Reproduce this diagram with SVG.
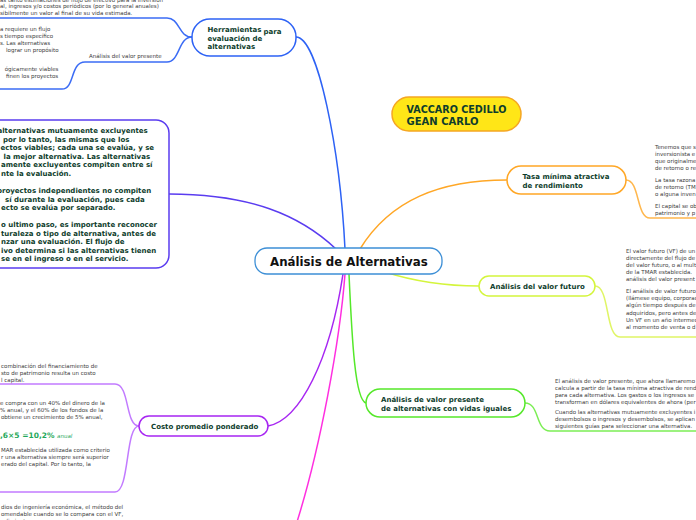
<svg xmlns="http://www.w3.org/2000/svg" width="696" height="520" viewBox="0 0 696 520">
<style>
.n{font-family:"DejaVu Sans",Verdana,sans-serif;font-weight:bold;font-size:7px;fill:#0e3d2c}
.g{font-family:"DejaVu Sans",Verdana,sans-serif;font-size:5.5px;fill:#3c3c3c}
.b{font-family:"DejaVu Sans",Verdana,sans-serif;font-weight:bold;font-size:7px;fill:#0e3d2c}
.c{fill:none;stroke-width:1.5}
</style>
<rect width="696" height="520" fill="#fff"/>
<g id="connectors">
<path class="c" stroke="#2d62f5" d="M296 37 C318 37 340 150 345 249"/>
<path class="c" stroke="#5a3cf0" d="M169 194 C250 194 300 215 336 249"/>
<path class="c" stroke="#ffa726" d="M360 249 C390 200 440 180 507 180"/>
<path class="c" stroke="#d4f53c" d="M385 272 C410 280 440 286 479 286"/>
<path class="c" stroke="#55e82a" d="M349 274 C352 340 355 400 366 403"/>
<path class="c" stroke="#a726f2" d="M343 274 C330 360 300 420 268 426"/>
<path class="c" stroke="#ff2fe0" d="M345 274 C340 340 320 450 296 525"/>
<path class="c" stroke="#3b6cf5" d="M192 37 C178 37 180 18 167 18 L0 18"/>
<path class="c" stroke="#3b6cf5" d="M192 37 C178 37 180 62 167 62 L85 62"/>
<path class="c" stroke="#3b6cf5" d="M85 62 C70 62 75 89 62 89 L0 89"/>
<path class="c" stroke="#ffb74d" d="M626 180 C640 180 636 218 650 218 L696 218"/>
<path class="c" stroke="#e0f566" d="M595 286 C610 286 605 337 620 337 L696 337"/>
<path class="c" stroke="#7cee55" d="M525 403 C540 403 535 431 550 431 L696 431"/>
<path class="c" stroke="#c27bff" d="M139 426 C125 426 130 384 115 384 L0 384"/>
<path class="c" stroke="#c27bff" d="M139 426 C125 426 130 492 115 492 L0 492"/>
</g>
<g id="central">
<rect x="255" y="248" width="187" height="26" rx="12" fill="#fff" stroke="#3d8fd6" stroke-width="1.3"/>
<text x="270" y="265.5" font-family="DejaVu Sans,Verdana,sans-serif" font-weight="bold" font-size="11.8" fill="#111">Análisis de Alternativas</text>
</g>
<g id="herramientas">
<rect x="192" y="19" width="104" height="37" rx="18" fill="#fff" stroke="#2d62f5" stroke-width="1.5"/>
<text class="n" x="207.5" y="31.5">Herramientas</text>
<text class="n" x="263.5" y="33.5">para</text>
<text class="n" x="207.5" y="40.5">evaluación de</text>
<text class="n" x="207.5" y="48.5">alternativas</text>
</g>
<g id="herr-texts">
<text class="g" x="0" y="1.5">as tanto estimaciones de flujo de efectivo para la inversión</text>
<text class="g" x="0" y="8">al, ingresos y/o costos periódicos (por lo general anuales)</text>
<text class="g" x="0" y="14.5">sibilmente un valor al final de su vida estimada.</text>
<text class="g" x="0" y="31">a requiere un flujo</text>
<text class="g" x="0" y="38">s tiempo específico</text>
<text class="g" x="0" y="45">s.  Las alternativas</text>
<text class="g" x="6" y="52">lograr un propósito</text>
<text class="g" x="89" y="58">Análisis del valor presente</text>
<text class="g" x="4.7" y="71">ógicamente viables</text>
<text class="g" x="6" y="78">finen los proyectos</text>
</g>
<g id="tipos">
<rect x="-30" y="120" width="199" height="148" rx="13" fill="#fff" stroke="#5a3cf0" stroke-width="1.5"/>
<text class="b" x="-2.5" y="133">alternativas mutuamente excluyentes</text>
<text class="b" x="3" y="141.5">por lo tanto, las mismas que los</text>
<text class="b" x="0.5" y="150">ectos viables; cada una se evalúa, y se</text>
<text class="b" x="3.5" y="158.5">la mejor alternativa.  Las alternativas</text>
<text class="b" x="1" y="167">amente excluyentes compiten entre sí</text>
<text class="b" x="1" y="175.5">nte la evaluación.</text>
<text class="b" x="-3" y="193">proyectos independientes no compiten</text>
<text class="b" x="5" y="201.5">sí durante la evaluación, pues cada</text>
<text class="b" x="1" y="210">ecto se evalúa por separado.</text>
<text class="b" x="1" y="227">o ultimo paso, es importante reconocer</text>
<text class="b" x="1" y="235.5">turaleza o tipo de alternativa, antes de</text>
<text class="b" x="1" y="244">nzar una evaluación.  El flujo de</text>
<text class="b" x="1" y="252.5">ivo determina si las alternativas tienen</text>
<text class="b" x="1" y="261">se en el ingreso o en el servicio.</text>
</g>
<g id="autor">
<rect x="392" y="97" width="129" height="34" rx="17" fill="#ffe617" stroke="#f5a623" stroke-width="1.5"/>
<text x="406.5" y="112.5" font-family="DejaVu Sans,Verdana,sans-serif" font-weight="bold" font-size="10" fill="#0e3d2c" textLength="100" lengthAdjust="spacingAndGlyphs">VACCARO CEDILLO</text>
<text x="406.5" y="124.5" font-family="DejaVu Sans,Verdana,sans-serif" font-weight="bold" font-size="10" fill="#0e3d2c">GEAN CARLO</text>
</g>
<g id="tmar">
<rect x="507" y="166" width="119" height="28" rx="14" fill="#fff" stroke="#ffa726" stroke-width="1.5"/>
<text class="n" x="522.5" y="179">Tasa mínima atractiva</text>
<text class="n" x="522.5" y="187.5">de rendimiento</text>
<text class="g" x="655" y="148.5">Tenemos que s</text>
<text class="g" x="655" y="155.5">inversionista e</text>
<text class="g" x="655" y="162.5">que originalme</text>
<text class="g" x="655" y="169.5">de retorno o re</text>
<text class="g" x="655" y="182">La tasa razona</text>
<text class="g" x="655" y="189">de retorno (TM</text>
<text class="g" x="655" y="196">o alguna inven</text>
<text class="g" x="655" y="208">El capital se ob</text>
<text class="g" x="655" y="215">patrimonio y p</text>
</g>
<g id="vf">
<rect x="479" y="276" width="116" height="20" rx="10" fill="#fff" stroke="#d4f53c" stroke-width="1.5"/>
<text class="n" x="490" y="288.5">Análisis del valor futuro</text>
<text class="g" x="626" y="252.5">El valor futuro (VF) de un</text>
<text class="g" x="626" y="259.7">directamente del flujo de</text>
<text class="g" x="626" y="266.9">del valor futuro, o al mult</text>
<text class="g" x="626" y="274.1">de la TMAR establecida.</text>
<text class="g" x="626" y="281.3">análisis del valor present</text>
<text class="g" x="626" y="293">El análisis de valor futuro</text>
<text class="g" x="626" y="300.2">(llámese equipo, corporac</text>
<text class="g" x="626" y="307.4">algún tiempo después de</text>
<text class="g" x="626" y="314.6">adquiridos, pero antes de</text>
<text class="g" x="626" y="321.8">Un VF en un año intermed</text>
<text class="g" x="626" y="329">al momento de venta o d</text>
</g>
<g id="vp">
<rect x="366" y="389" width="159" height="28" rx="14" fill="#fff" stroke="#55e82a" stroke-width="1.5"/>
<text class="n" x="381" y="402">Análisis de valor presente</text>
<text class="n" x="381" y="410.5">de alternativas con vidas iguales</text>
<text class="g" x="555" y="382.5">El análisis de valor presente, que ahora llamaremo</text>
<text class="g" x="555" y="389.5">calcula a partir de la tasa mínima atractiva de rend</text>
<text class="g" x="555" y="396.5">para cada alternativa.  Los gastos o los ingresos se</text>
<text class="g" x="555" y="403.5">transforman en dólares equivalentes de ahora (per</text>
<text class="g" x="555" y="413.5">Cuando las alternativas mutuamente excluyentes i</text>
<text class="g" x="555" y="420.5">desembolsos o ingresos y desembolsos, se aplican</text>
<text class="g" x="555" y="427.5">siguientes guías para seleccionar una alternativa.</text>
</g>
<g id="costo">
<rect x="139" y="416" width="129" height="20" rx="10" fill="#fff" stroke="#a726f2" stroke-width="1.5"/>
<text class="n" x="151" y="428.5">Costo promedio ponderado</text>
<text class="g" x="1" y="368">combinación del financiamiento de</text>
<text class="g" x="1" y="375">sto de patrimonio resulta un costo</text>
<text class="g" x="1" y="382">l capital.</text>
<text class="g" x="0" y="404.5">e compra con un 40% del dinero de la</text>
<text class="g" x="0" y="411.5">% anual, y el 60% de los fondos de la</text>
<text class="g" x="1" y="418.5">obtiene un crecimiento de 5% anual,</text>
<text x="0" y="438" font-family="DejaVu Sans,Verdana,sans-serif" font-weight="bold" font-size="7.5" fill="#1fa85a">,6×5 =10,2% <tspan font-style="italic" font-size="5.5" font-weight="normal">anual</tspan></text>
<text class="g" x="1" y="452">MAR establecida utilizada como criterio</text>
<text class="g" x="1" y="459">r una alternativa siempre será superior</text>
<text class="g" x="1" y="466">erado del capital.  Por lo tanto, la</text>
<text class="g" x="1" y="509">dios de ingeniería económica, el método del</text>
<text class="g" x="1" y="516">omendable cuando se lo compara con el VF,</text>
<text class="g" x="1" y="523">ndimiento</text>
</g>
</svg>
